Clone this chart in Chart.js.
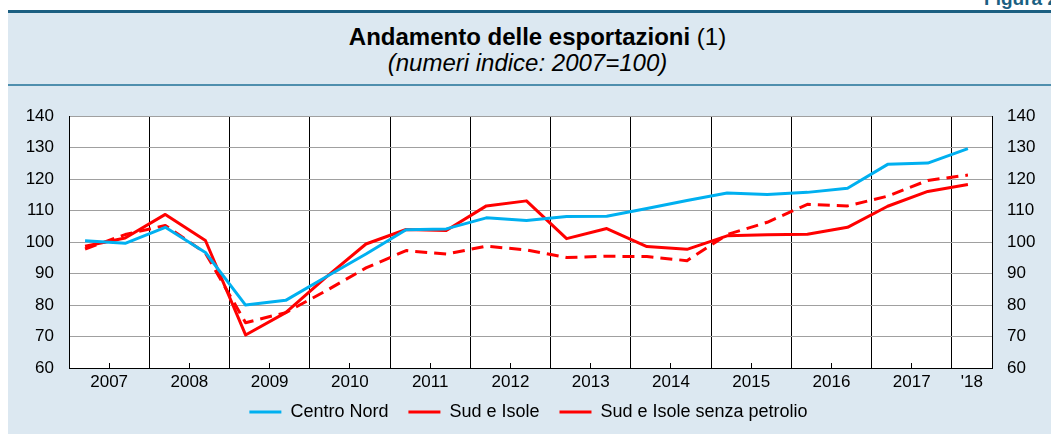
<!DOCTYPE html>
<html lang="it">
<head>
<meta charset="UTF-8">
<title>Andamento delle esportazioni</title>
<script src="https://cdn.jsdelivr.net/npm/chart.js/dist/chart.umd.min.js"></script>
<style>
  body { margin: 0; width: 1051px; height: 434px; overflow: hidden; background: #fff;
         font-family: "Liberation Sans", Arial, sans-serif; position: relative; }
  #figura { position: absolute; right: -7px; top: -12px; font-size: 19px; font-weight: bold; color: #1b5f82; }
  #panel { position: absolute; left: 8px; top: 10px; right: 0; height: 500px; background: #dce8f1;
           border-top: 3px solid #1b5f82; }
  #rule { position: absolute; left: 8px; right: 0; top: 84px; height: 2px; background: #4f8fae; }
  #title { position: absolute; left: 24px; right: 0; top: 25px; text-align: center; font-size: 24px; line-height: 24px; }
  #subtitle { position: absolute; left: 4px; right: 0; top: 51px; text-align: center; font-size: 24px;
              line-height: 24px; font-style: italic; }
  #wrap { position: absolute; left: 0; top: 91px; width: 1051px; height: 365px; }
</style>
</head>
<body>
<div id="panel"></div>
<div id="figura">Figura 2</div>
<div id="rule"></div>
<div id="title"><b>Andamento delle esportazioni</b> (1)</div>
<div id="subtitle">(numeri indice: 2007=100)</div>
<div id="wrap"><canvas id="chart"></canvas></div>
<script>
// semestri: 2007 S1 ... 2018 S1
const periods = ["2007-1","2007-2","2008-1","2008-2","2009-1","2009-2","2010-1","2010-2",
  "2011-1","2011-2","2012-1","2012-2","2013-1","2013-2","2014-1","2014-2",
  "2015-1","2015-2","2016-1","2016-2","2017-1","2017-2","2018-1"];
const yearLabels = ["2007","2008","2009","2010","2011","2012","2013","2014","2015","2016","2017","'18"];

const centroNord = [100.4, 99.6, 104.7, 96.7, 80.0, 81.5, 88.9, 96.2, 103.9, 104.2, 107.7, 106.9,
  108.1, 108.2, 110.7, 113.2, 115.6, 115.1, 115.8, 117.1, 124.7, 125.1, 129.7];
const sudIsole = [98.7, 101.3, 108.8, 100.5, 70.5, 77.6, 88.8, 99.4, 104.0, 103.7, 111.5, 113.1,
  101.1, 104.3, 98.6, 97.7, 102.0, 102.3, 102.5, 104.7, 111.4, 116.1, 118.3];
const sudSenzaPetrolio = [97.8, 102.4, 105.3, 96.5, 74.4, 77.6, 84.5, 91.8, 97.3, 96.2, 98.7, 97.5,
  95.1, 95.5, 95.4, 94.1, 102.4, 106.3, 112.0, 111.5, 114.6, 119.6, 121.3];

// x in half-year units, points sit a bit left of the half-year centre
const toPoints = arr => arr.map((v, i) => ({ x: i + 0.4, y: v }));

// year centres get a label, year boundaries a black line
const xTicks = [];
for (let i = 0; i <= 22; i++) xTicks.push(i);
xTicks.push(22.5, 23);

function labelFor(v) {
  if (v === 22.5) return yearLabels[11];
  if (v < 22 && Number.isInteger(v) && v % 2 === 1) return yearLabels[(v - 1) / 2];
  return "";
}

const plotBg = {
  id: "plotBg",
  beforeDraw(chart) {
    const a = chart.chartArea, ctx = chart.ctx;
    ctx.save();
    ctx.fillStyle = "#fff";
    ctx.fillRect(a.left, a.top, a.right - a.left, a.bottom - a.top);
    ctx.restore();
  }
};

// legend sits closer to the axis labels than the padding alone allows
const legendUp = {
  id: "legendUp",
  afterLayout(chart) {
    const lg = chart.legend;
    lg.top -= 15;
    lg.bottom -= 15;
  }
};

Chart.defaults.font.family = '"Liberation Sans", Arial, sans-serif';
Chart.defaults.font.size = 17;
Chart.defaults.color = "#000";

new Chart(document.getElementById("chart"), {
  type: "line",
  data: {
    datasets: [
      { label: "Centro Nord", data: toPoints(centroNord), borderColor: "#00b0f0", borderWidth: 3 },
      { label: "Sud e Isole", data: toPoints(sudIsole), borderColor: "#ff0000", borderWidth: 3 },
      { label: "Sud e Isole senza petrolio", data: toPoints(sudSenzaPetrolio), borderColor: "#ff0000",
        borderWidth: 3, borderDash: [12, 7] }
    ]
  },
  options: {
    responsive: true,
    maintainAspectRatio: false,
    animation: false,
    elements: { point: { radius: 0 }, line: { tension: 0, borderJoinStyle: "round" } },
    layout: { padding: { top: 0, bottom: 10, left: 6, right: 0 } },
    plugins: {
      tooltip: { enabled: false },
      legend: {
        position: "bottom",
        labels: { usePointStyle: true, pointStyle: "line", pointStyleWidth: 32, boxWidth: 32,
                  padding: 20, font: { size: 18 } }
      }
    },
    scales: {
      x: {
        type: "linear", min: 0, max: 23,
        afterBuildTicks: s => { s.ticks = xTicks.map(v => ({ value: v })); },
        afterFit: s => { s.height = 30; },
        ticks: { autoSkip: false, maxRotation: 0, padding: 9, callback: v => labelFor(v) },
        grid: {
          drawTicks: true, tickLength: -5,
          color: c => (Number.isInteger(c.tick.value) && c.tick.value % 2 === 0) ? "#000" : "rgba(0,0,0,0)",
          tickColor: c => Number.isInteger(c.tick.value) ? "#000" : "rgba(0,0,0,0)"
        },
        border: { color: "#000", width: 1 }
      },
      y: {
        position: "left", min: 60, max: 140,
        afterFit: s => { s.width = 63; },
        ticks: { stepSize: 10, padding: 15 },
        grid: { color: "#a0a0a0", drawTicks: false },
        border: { color: "#000" }
      },
      y2: {
        position: "right", min: 60, max: 140,
        afterFit: s => { s.width = 59; },
        ticks: { stepSize: 10, padding: 15 },
        grid: { drawOnChartArea: false, drawTicks: false },
        border: { color: "#000" }
      }
    }
  },
  plugins: [plotBg, legendUp]
});
</script>
</body>
</html>
